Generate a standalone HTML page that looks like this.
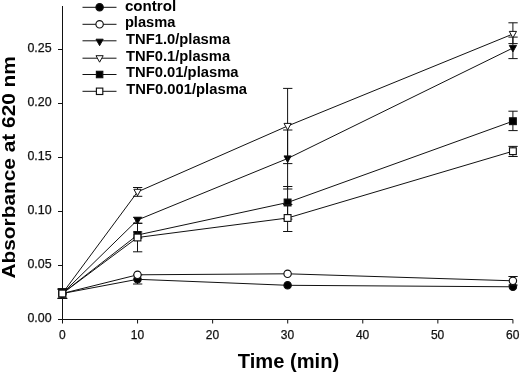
<!DOCTYPE html>
<html><head><meta charset="utf-8"><title>Absorbance at 620 nm vs Time</title>
<style>
html,body{margin:0;padding:0;background:#fff;}
body{width:520px;height:373px;overflow:hidden;}
svg{display:block;font-family:"Liberation Sans",Arial,Helvetica,sans-serif;}
.tick{font-size:12px;fill:#111;stroke:#111;stroke-width:0.25;}
.b{font-weight:bold;fill:#000;}
</style></head><body>
<svg width="520" height="373" viewBox="0 0 520 373">
<rect width="520" height="373" fill="#fff"/>
<g stroke="#111" stroke-width="1" fill="none">

<path d="M62.5 6V319.5H512.9"/>
<path d="M58 319.5H62.5 M58 265.5H62.5 M58 211.5H62.5 M58 157.5H62.5 M58 103.5H62.5 M58 49.5H62.5"/>
<path d="M62.5 319.5V323.5 M137.57 319.5V323.5 M212.64 319.5V323.5 M287.71 319.5V323.5 M362.78 319.5V323.5 M437.84999999999997 319.5V323.5 M512.92 319.5V323.5"/>
</g>

<g class="tick" text-anchor="end">
<text x="51.6" y="322.1" textLength="24.2" lengthAdjust="spacingAndGlyphs">0.00</text>
<text x="51.6" y="268.1" textLength="24.2" lengthAdjust="spacingAndGlyphs">0.05</text>
<text x="51.6" y="214.1" textLength="24.2" lengthAdjust="spacingAndGlyphs">0.10</text>
<text x="51.6" y="160.1" textLength="24.2" lengthAdjust="spacingAndGlyphs">0.15</text>
<text x="51.6" y="106.1" textLength="24.2" lengthAdjust="spacingAndGlyphs">0.20</text>
<text x="51.6" y="52.1" textLength="24.2" lengthAdjust="spacingAndGlyphs">0.25</text>
</g>
<g class="tick" text-anchor="middle">
<text x="62.3" y="339.2">0</text>
<text x="137.4" y="339.2">10</text>
<text x="212.4" y="339.2">20</text>
<text x="287.5" y="339.2">30</text>
<text x="362.6" y="339.2">40</text>
<text x="437.6" y="339.2">50</text>
<text x="512.7" y="339.2">60</text>
</g>

<text class="b" font-size="19.5" x="237.8" y="368" textLength="101.4" lengthAdjust="spacingAndGlyphs">Time (min)</text>

<text class="b" font-size="18" transform="translate(15 278.6) rotate(-90)" textLength="222.5" lengthAdjust="spacingAndGlyphs">Absorbance at 620 nm</text>

<g stroke="#111" stroke-width="1" fill="none">
<polyline points="62.3,293.5 137.5,279.3 287.6,285.3 512.9,286.8"/>
<path d="M62.3 289.1V298.4M57.8 289.1H67.1M57.8 298.4H67.1M137.5 274.8V284.0M133.0 274.8H142.3M133.0 284.0H142.3"/>
<circle cx="62.3" cy="293.5" r="3.7" fill="#000" stroke-width="1.15"/>
<circle cx="137.5" cy="279.3" r="3.7" fill="#000" stroke-width="1.15"/>
<circle cx="287.6" cy="285.3" r="3.7" fill="#000" stroke-width="1.15"/>
<circle cx="512.9" cy="286.8" r="3.7" fill="#000" stroke-width="1.15"/>
</g>

<g stroke="#111" stroke-width="1" fill="none">
<polyline points="62.3,293.5 137.5,274.8 287.6,273.8 512.9,280.8"/>
<path d="M62.3 289.1V298.4M57.8 289.1H67.1M57.8 298.4H67.1M512.9 276.5V285.1M508.4 276.5H517.6999999999999M508.4 285.1H517.6999999999999"/>
<circle cx="62.3" cy="293.5" r="3.7" fill="#fff" stroke-width="1.15"/>
<circle cx="137.5" cy="274.8" r="3.7" fill="#fff" stroke-width="1.15"/>
<circle cx="287.6" cy="273.8" r="3.7" fill="#fff" stroke-width="1.15"/>
<circle cx="512.9" cy="280.8" r="3.7" fill="#fff" stroke-width="1.15"/>
</g>

<g stroke="#111" stroke-width="1" fill="none">
<polyline points="62.3,293.5 137.5,220 287.6,158.5 512.9,48"/>
<path d="M62.3 289.1V298.4M57.8 289.1H67.1M57.8 298.4H67.1M137.5 217.3V223.4M133.0 217.3H142.3M133.0 223.4H142.3M287.6 130.0V189.0M283.1 130.0H292.40000000000003M283.1 189.0H292.40000000000003M512.9 37.1V58.6M508.4 37.1H517.6999999999999M508.4 58.6H517.6999999999999"/>
<polygon points="58.699999999999996,290.9 65.89999999999999,290.9 62.3,297.4" fill="#000"/>
<polygon points="133.9,217.4 141.1,217.4 137.5,223.9" fill="#000"/>
<polygon points="284.0,155.9 291.20000000000005,155.9 287.6,162.4" fill="#000"/>
<polygon points="509.29999999999995,45.4 516.5,45.4 512.9,51.9" fill="#000"/>
</g>

<g stroke="#111" stroke-width="1" fill="none">
<polyline points="62.3,293.5 137.5,191.9 287.6,126 512.9,34"/>
<path d="M62.3 289.1V298.4M57.8 289.1H67.1M57.8 298.4H67.1M137.5 187.5V196.3M133.0 187.5H142.3M133.0 196.3H142.3M287.6 88.4V163.6M283.1 88.4H292.40000000000003M283.1 163.6H292.40000000000003M512.9 22.8V43.6M508.4 22.8H517.6999999999999M508.4 43.6H517.6999999999999"/>
<polygon points="58.699999999999996,290.9 65.89999999999999,290.9 62.3,297.4" fill="#fff"/>
<polygon points="133.9,189.3 141.1,189.3 137.5,195.8" fill="#fff"/>
<polygon points="284.0,123.4 291.20000000000005,123.4 287.6,129.9" fill="#fff"/>
<polygon points="509.29999999999995,31.4 516.5,31.4 512.9,37.9" fill="#fff"/>
</g>

<g stroke="#111" stroke-width="1" fill="none">
<polyline points="62.3,293.5 137.5,235 287.6,202.5 512.9,121.2"/>
<path d="M62.3 289.1V298.4M57.8 289.1H67.1M57.8 298.4H67.1M137.5 232.0V238.0M133.0 232.0H142.3M133.0 238.0H142.3M287.6 186.5V219.1M283.1 186.5H292.40000000000003M283.1 219.1H292.40000000000003M512.9 111.2V130.6M508.4 111.2H517.6999999999999M508.4 130.6H517.6999999999999"/>
<rect x="58.90" y="290.10" width="6.8" height="6.8" fill="#000" stroke-width="1.15"/>
<rect x="134.10" y="231.60" width="6.8" height="6.8" fill="#000" stroke-width="1.15"/>
<rect x="284.20" y="199.10" width="6.8" height="6.8" fill="#000" stroke-width="1.15"/>
<rect x="509.50" y="117.80" width="6.8" height="6.8" fill="#000" stroke-width="1.15"/>
</g>

<g stroke="#111" stroke-width="1" fill="none">
<polyline points="62.3,293.5 137.5,237.5 287.6,218 512.9,151.2"/>
<path d="M62.3 289.1V298.4M57.8 289.1H67.1M57.8 298.4H67.1M137.5 223.2V251.8M133.0 223.2H142.3M133.0 251.8H142.3M287.6 204.5V231.5M283.1 204.5H292.40000000000003M283.1 231.5H292.40000000000003M512.9 146.4V156.5M508.4 146.4H517.6999999999999M508.4 156.5H517.6999999999999"/>
<rect x="58.90" y="290.10" width="6.8" height="6.8" fill="#fff" stroke-width="1.15"/>
<rect x="134.10" y="234.10" width="6.8" height="6.8" fill="#fff" stroke-width="1.15"/>
<rect x="284.20" y="214.60" width="6.8" height="6.8" fill="#fff" stroke-width="1.15"/>
<rect x="509.50" y="147.80" width="6.8" height="6.8" fill="#fff" stroke-width="1.15"/>
</g>

<g stroke="#111" stroke-width="1" fill="none">
<path d="M82.5 7.3H116.5"/>
<circle cx="99.6" cy="7.3" r="3.7" fill="#000" stroke-width="1.15"/>
<path d="M82.5 24.3H116.5"/>
<circle cx="99.6" cy="24.3" r="3.7" fill="#fff" stroke-width="1.15"/>
<path d="M82.5 40.8H116.5"/>
<polygon points="96.0,39.199999999999996 103.19999999999999,39.199999999999996 99.6,45.699999999999996" fill="#000"/>
<path d="M82.5 58.2H116.5"/>
<polygon points="96.0,55.7 103.19999999999999,55.7 99.6,62.2" fill="#fff"/>
<path d="M82.5 74.5H116.5"/>
<rect x="96.40" y="71.30" width="6.4" height="6.4" fill="#000" stroke-width="1.15"/>
<path d="M82.5 91.3H116.5"/>
<rect x="96.40" y="88.10" width="6.4" height="6.4" fill="#fff" stroke-width="1.15"/>
</g>
<g class="b" font-size="14">
<text x="124.9" y="10.8" textLength="51.3" lengthAdjust="spacingAndGlyphs">control</text>
<text x="124.9" y="27" textLength="50.5" lengthAdjust="spacingAndGlyphs">plasma</text>
<text x="126.1" y="44.4" textLength="104" lengthAdjust="spacingAndGlyphs">TNF1.0/plasma</text>
<text x="126.1" y="60.5" textLength="104" lengthAdjust="spacingAndGlyphs">TNF0.1/plasma</text>
<text x="126.1" y="77.3" textLength="112.4" lengthAdjust="spacingAndGlyphs">TNF0.01/plasma</text>
<text x="126.3" y="94.1" textLength="120.7" lengthAdjust="spacingAndGlyphs">TNF0.001/plasma</text>
</g>
</svg></body></html>
